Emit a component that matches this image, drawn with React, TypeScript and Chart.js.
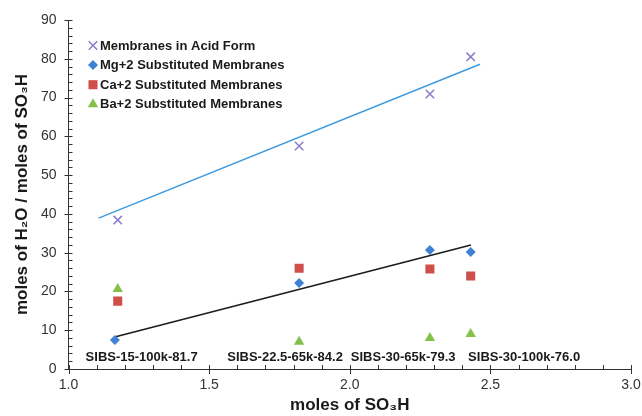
import React, { useEffect, useRef } from "react";
import { Chart, registerables } from "chart.js";

Chart.register(...registerables);

// ---- data ----
const seriesNames = [
  "Membranes in Acid Form",
  "Mg+2 Substituted Membranes",
  "Ca+2 Substituted Membranes",
  "Ba+2 Substituted Membranes",
];
const sampleX = [1.175, 1.82, 2.285, 2.43];
const mgX = [1.165, 1.82, 2.285, 2.43];
const acidY = [38.4, 57.5, 70.9, 80.5];
const mgY = [7.5, 22.2, 30.7, 30.2];
const caY = [17.5, 26.0, 25.8, 24.0];
const baY = [20.6, 7.0, 8.0, 9.0];
const acidTrendX = [1.107, 2.463];
const acidTrendY = [38.9, 78.6];
const mgTrendX = [1.164, 2.431];
const mgTrendY = [8.25, 32.0];
const sampleLabels = [
  "SIBS-15-100k-81.7",
  "SIBS-22.5-65k-84.2",
  "SIBS-30-65k-79.3",
  "SIBS-30-100k-76.0",
];
const sampleLabelX = [1.26, 1.77, 2.19, 2.62];
const sampleLabelY = 3.0;
const xTicks = { min: 1.0, max: 3.0, step: 0.5, minor: 0.1 };
const yTicks = { min: 0, max: 90, step: 10, minor: 2 };

const colors = {
  acid: "#8a7cc8",
  mg: "#3f82d4",
  ca: "#cf4f4a",
  ba: "#84c04a",
  acidTrend: "#3c9ae0",
  mgTrend: "#1c1c1c",
};

const pts = (xs: number[], ys: number[]) => xs.map((x, i) => ({ x, y: ys[i] }));

const FONT = "'Liberation Sans', Arial, sans-serif";

function drawMarker(ctx: CanvasRenderingContext2D, style: string, r: number, x: number, y: number) {
  ctx.beginPath();
  if (style === "crossRot") {
    const o = Math.SQRT1_2 * r;
    ctx.moveTo(x - o, y - o);
    ctx.lineTo(x + o, y + o);
    ctx.moveTo(x + o, y - o);
    ctx.lineTo(x - o, y + o);
    ctx.stroke();
    return;
  }
  if (style === "rectRot") {
    ctx.moveTo(x - r, y);
    ctx.lineTo(x, y - r);
    ctx.lineTo(x + r, y);
    ctx.lineTo(x, y + r);
  } else if (style === "rect") {
    const s = Math.SQRT1_2 * r;
    ctx.rect(x - s, y - s, 2 * s, 2 * s);
  } else if (style === "triangle") {
    ctx.moveTo(x, y - r);
    ctx.lineTo(x + r * Math.sin((Math.PI * 2) / 3), y - r * Math.cos((Math.PI * 2) / 3));
    ctx.lineTo(x - r * Math.sin((Math.PI * 2) / 3), y - r * Math.cos((Math.PI * 2) / 3));
  }
  ctx.closePath();
  ctx.fill();
}

const decorPlugin = {
  id: "decor",
  afterDraw(chart: any) {
    const ctx = chart.ctx as CanvasRenderingContext2D;
    const xs = chart.scales.x;
    const ys = chart.scales.y;
    const x0 = xs.getPixelForValue(xTicks.min);
    const y0 = ys.getPixelForValue(yTicks.min);
    ctx.save();
    ctx.strokeStyle = "#333";
    ctx.lineWidth = 1;
    ctx.beginPath();
    // y ticks
    const ny = Math.round((yTicks.max - yTicks.min) / yTicks.minor);
    for (let i = 0; i <= ny; i++) {
      const v = yTicks.min + i * yTicks.minor;
      const py = Math.round(ys.getPixelForValue(v)) + 0.5;
      const major = i % Math.round(yTicks.step / yTicks.minor) === 0;
      ctx.moveTo(major ? x0 - 4 : x0, py);
      ctx.lineTo(x0 + 4, py);
    }
    // x ticks
    const n = Math.round((xTicks.max - xTicks.min) / xTicks.minor);
    for (let i = 0; i <= n; i++) {
      const v = xTicks.min + i * xTicks.minor;
      const px = Math.round(xs.getPixelForValue(v)) + 0.5;
      const major = i % Math.round(xTicks.step / xTicks.minor) === 0;
      ctx.moveTo(px, y0 - 4);
      ctx.lineTo(px, major ? y0 + 5 : y0);
    }
    ctx.stroke();

    // sample annotations
    ctx.fillStyle = "#1a1a1a";
    ctx.font = `bold 13px ${FONT}`;
    ctx.textAlign = "center";
    ctx.textBaseline = "middle";
    sampleLabels.forEach((t, i) => {
      ctx.fillText(t, xs.getPixelForValue(sampleLabelX[i]), ys.getPixelForValue(sampleLabelY));
    });

    // legend
    const lx = 93;
    const ly = 45.5;
    const lh = 19.6;
    ctx.font = `bold 13px ${FONT}`;
    ctx.textAlign = "left";
    seriesNames.forEach((name, i) => {
      const ds = chart.data.datasets[i];
      const y = ly + i * lh;
      ctx.save();
      ctx.fillStyle = ds.pointBackgroundColor;
      ctx.strokeStyle = ds.pointBorderColor;
      ctx.lineWidth = ds.pointBorderWidth;
      drawMarker(ctx, ds.pointStyle, ds.pointRadius, lx, y);
      ctx.restore();
      ctx.fillStyle = "#1a1a1a";
      ctx.fillText(name, lx + 7, y + 0.5);
    });
    ctx.restore();
  },
};

export default function App() {
  const ref = useRef<HTMLCanvasElement | null>(null);
  useEffect(() => {
    if (!ref.current) return;
    const chart = new Chart(ref.current, {
      type: "scatter",
      data: {
        datasets: [
          {
            label: seriesNames[0],
            data: pts(sampleX, acidY),
            pointStyle: "crossRot",
            pointRadius: 6,
            pointBorderWidth: 1.5,
            pointBackgroundColor: colors.acid,
            pointBorderColor: colors.acid,
          },
          {
            label: seriesNames[1],
            data: pts(mgX, mgY),
            pointStyle: "rectRot",
            pointRadius: 5,
            pointBorderWidth: 0,
            pointBackgroundColor: colors.mg,
            pointBorderColor: colors.mg,
          },
          {
            label: seriesNames[2],
            data: pts(sampleX, caY),
            pointStyle: "rect",
            pointRadius: 6.4,
            pointBorderWidth: 0,
            pointBackgroundColor: colors.ca,
            pointBorderColor: colors.ca,
          },
          {
            label: seriesNames[3],
            data: pts(sampleX, baY),
            pointStyle: "triangle",
            pointRadius: 6,
            pointBorderWidth: 0,
            pointBackgroundColor: colors.ba,
            pointBorderColor: colors.ba,
          },
          {
            label: "acid trend",
            type: "line",
            data: pts(acidTrendX, acidTrendY),
            borderColor: colors.acidTrend,
            borderWidth: 1.5,
            pointRadius: 0,
            showLine: true,
            fill: false,
          },
          {
            label: "mg trend",
            type: "line",
            data: pts(mgTrendX, mgTrendY),
            borderColor: colors.mgTrend,
            borderWidth: 1.6,
            pointRadius: 0,
            showLine: true,
            fill: false,
          },
        ] as any,
      },
      options: {
        animation: false,
        responsive: false,
        layout: { padding: { top: 20, right: 11, left: 0, bottom: 0 } },
        plugins: { legend: { display: false }, tooltip: { enabled: false } },
        scales: {
          x: {
            type: "linear",
            min: xTicks.min,
            max: xTicks.max,
            grid: { display: false, drawTicks: false },
            border: { display: true, color: "#333", width: 1 },
            ticks: {
              stepSize: xTicks.step,
              padding: 8,
              color: "#333",
              font: { family: FONT, size: 14 },
              callback: (v: any) => Number(v).toFixed(1),
            },
            title: {
              display: true,
              text: "moles of SO₃H",
              color: "#1a1a1a",
              font: { family: FONT, size: 17, weight: "bold" },
              padding: { top: 0, bottom: 0 },
            },
            afterFit: (s: any) => {
              s.height = 47;
              s.paddingRight = 0;
              s.paddingLeft = 0;
            },
          },
          y: {
            type: "linear",
            min: yTicks.min,
            max: yTicks.max,
            grid: { display: false, drawTicks: false },
            border: { display: true, color: "#333", width: 1 },
            ticks: {
              stepSize: yTicks.step,
              padding: 12,
              color: "#333",
              font: { family: FONT, size: 14 },
            },
            title: {
              display: true,
              text: "moles of H₂O / moles of SO₃H",
              color: "#1a1a1a",
              font: { family: FONT, size: 17, weight: "bold" },
              padding: { top: 12, bottom: 0 },
            },
            afterFit: (s: any) => {
              s.width = 68.5;
              s.paddingTop = 0;
              s.paddingBottom = 0;
            },
          },
        },
      } as any,
      plugins: [decorPlugin],
    });
    return () => chart.destroy();
  }, []);
  return (
    <div style={{ position: "fixed", left: 0, top: 0, width: 642, height: 416, background: "#fff" }}>
      <canvas ref={ref} width={642} height={416} />
    </div>
  );
}
